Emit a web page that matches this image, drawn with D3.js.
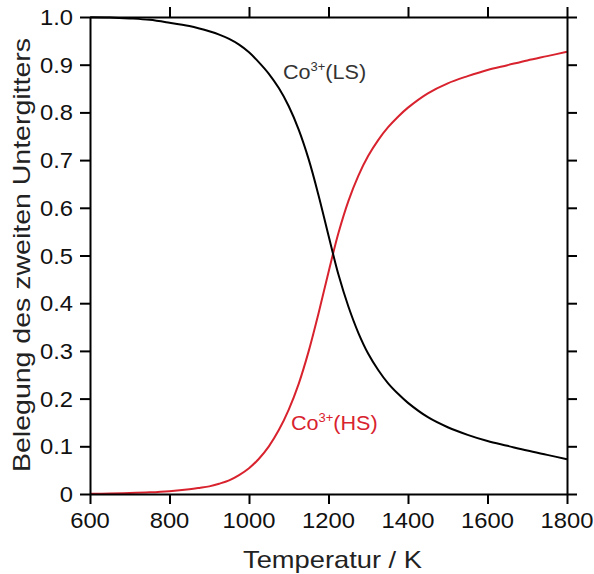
<!DOCTYPE html>
<html>
<head>
<meta charset="utf-8">
<script src="https://cdn.jsdelivr.net/npm/d3@7"></script>
<style>
  html, body { margin: 0; padding: 0; background: #fff; }
  svg { display: block; font-family: "Liberation Sans", Arial, Helvetica, sans-serif; }
</style>
</head>
<body>
<svg id="chart" width="594" height="574"></svg>
<script>
// ---- data ----
const temperatures = [600, 650, 700, 750, 800, 850, 875, 900, 925, 950, 975, 1000, 1025, 1050, 1075, 1100, 1125, 1150, 1175, 1200, 1225, 1250, 1275, 1300, 1325, 1350, 1375, 1400, 1450, 1500, 1550, 1600, 1650, 1700, 1750, 1800];
const hsValues = [0.0005, 0.001, 0.002, 0.0035, 0.006, 0.010, 0.0128, 0.016, 0.0215, 0.0285, 0.0395, 0.054, 0.074, 0.100, 0.134, 0.177, 0.231, 0.299, 0.379, 0.465, 0.547, 0.614, 0.667, 0.709, 0.742, 0.769, 0.791, 0.810, 0.840, 0.861, 0.876, 0.889, 0.899, 0.909, 0.918, 0.927];
const lsValues = [0.9995, 0.999, 0.997, 0.994, 0.988, 0.981, 0.976, 0.970, 0.963, 0.954, 0.942, 0.926, 0.905, 0.881, 0.851, 0.813, 0.764, 0.702, 0.626, 0.542, 0.460, 0.393, 0.338, 0.294, 0.260, 0.232, 0.210, 0.191, 0.161, 0.140, 0.124, 0.111, 0.101, 0.091, 0.082, 0.073];
const xTicks = [600, 800, 1000, 1200, 1400, 1600, 1800];
const xTopTicks = [800, 1000, 1200, 1400, 1600, 1800];
const yTicks = [0, 0.1, 0.2, 0.3, 0.4, 0.5, 0.6, 0.7, 0.8, 0.9, 1.0];
const yTickLabels = ["0", "0.1", "0.2", "0.3", "0.4", "0.5", "0.6", "0.7", "0.8", "0.9", "1.0"];
const xTitle = "Temperatur / K";
const yTitle = "Belegung des zweiten Untergitters";

// ---- layout ----
const svg = d3.select("#chart");
const L = 90, R = 567, T = 17, B = 494;
const x = d3.scaleLinear().domain([600, 1800]).range([L, R]);
const y = d3.scaleLinear().domain([0, 1]).range([B, T]);
const red = "#d8232e";
const tickLen = 10;
const sx = 1.08;

// curves
const line = d3.line().x(d => x(d[0])).y(d => y(d[1])).curve(d3.curveCatmullRom.alpha(0.5));
svg.append("path").datum(temperatures.map((t, i) => [t, hsValues[i]]))
  .attr("d", line).attr("fill", "none").attr("stroke", red).attr("stroke-width", 2);
svg.append("path").datum(temperatures.map((t, i) => [t, lsValues[i]]))
  .attr("d", line).attr("fill", "none").attr("stroke", "#000").attr("stroke-width", 2);

// axes
const axStyle = g => {
  g.select(".domain").attr("stroke", "#000").attr("stroke-width", 2);
  g.selectAll(".tick line").attr("stroke", "#000").attr("stroke-width", 2);
};
svg.append("g").attr("transform", `translate(0,${B})`)
  .call(d3.axisBottom(x).tickValues(xTicks).tickSize(tickLen).tickSizeOuter(0).tickFormat(""))
  .call(axStyle);
svg.append("g").attr("transform", `translate(0,${T})`)
  .call(d3.axisTop(x).tickValues(xTopTicks).tickSize(tickLen).tickSizeOuter(0).tickFormat(""))
  .call(axStyle);
svg.append("g").attr("transform", `translate(${L},0)`)
  .call(d3.axisLeft(y).tickValues(yTicks).tickSize(tickLen).tickSizeOuter(0).tickFormat(""))
  .call(axStyle);
svg.append("g").attr("transform", `translate(${R},0)`)
  .call(d3.axisRight(y).tickValues(yTicks).tickSize(tickLen).tickSizeOuter(0).tickFormat(""))
  .call(axStyle);

// tick labels
svg.append("g").selectAll("text").data(xTicks).join("text")
  .attr("transform", d => `translate(${x(d)},${B + 34}) scale(${sx},1)`)
  .attr("text-anchor", "middle").attr("font-size", 22).attr("fill", "#111")
  .text(d => d);
svg.append("g").selectAll("text").data(yTicks).join("text")
  .attr("transform", d => `translate(${L - 17},${y(d) + 8}) scale(${sx},1)`)
  .attr("text-anchor", "end").attr("font-size", 22).attr("fill", "#111")
  .text((d, i) => yTickLabels[i]);

// axis titles
svg.append("text")
  .attr("x", 332.5).attr("y", 568)
  .attr("text-anchor", "middle").attr("font-size", 24).attr("fill", "#222")
  .attr("textLength", 179).attr("lengthAdjust", "spacingAndGlyphs")
  .text(xTitle);
svg.append("text")
  .attr("transform", `translate(30,255) rotate(-90)`)
  .attr("text-anchor", "middle").attr("font-size", 24).attr("fill", "#222")
  .attr("textLength", 434).attr("lengthAdjust", "spacingAndGlyphs")
  .text(yTitle);

// curve labels
function curveLabel(px, py, color, tag) {
  const t = svg.append("text")
    .attr("transform", `translate(${px},${py}) scale(${sx},1)`)
    .attr("font-size", 20).attr("fill", color);
  t.append("tspan").text("Co");
  t.append("tspan").attr("font-size", 12).attr("dy", -8).text("3+");
  t.append("tspan").attr("dy", 8).text(tag);
}
curveLabel(283, 79, "#333", "(LS)");
curveLabel(291, 430, red, "(HS)");
</script>
</body>
</html>
